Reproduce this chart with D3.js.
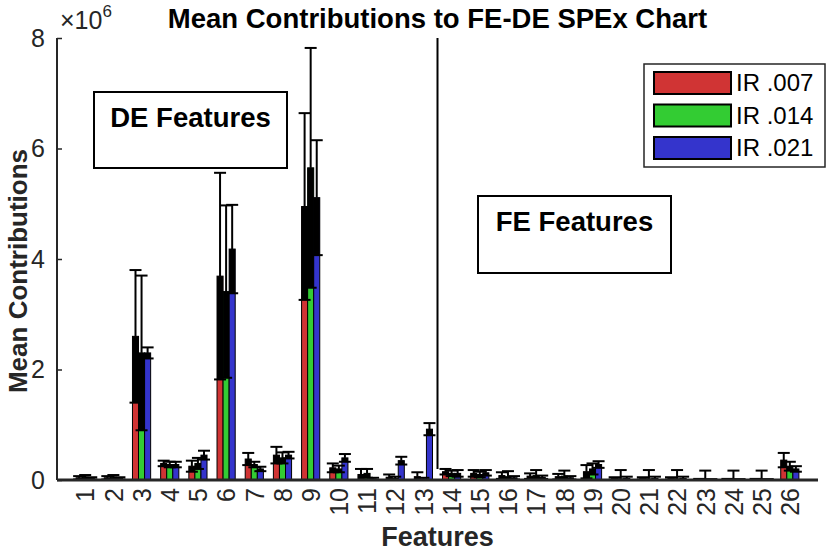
<!DOCTYPE html>
<html>
<head>
<meta charset="utf-8">
<title>Mean Contributions to FE-DE SPEx Chart</title>
<script src="https://cdn.jsdelivr.net/npm/d3@7"></script>
<style>
  body { margin: 0; background: #fff; }
  text { font-family: "Liberation Sans", Arial, Helvetica, sans-serif; }
</style>
</head>
<body>
<script>
// feature indices 1..26
var features = d3.range(1, 27);
var seriesNames = ["IR .007", "IR .014", "IR .021"];
var yTicks = [0, 2, 4, 6, 8];

// mean contributions (x 10^6)
var meanRed   = [0.04, 0.04, 2.6, 0.30, 0.25, 3.69, 0.38, 0.45, 4.95, 0.22, 0.10, 0.05, 0.06, 0.15, 0.12, 0.08, 0.07, 0.06, 0.15, 0.03, 0.03, 0.03, 0.01, 0.01, 0.01, 0.36];
var meanGreen = [0.05, 0.05, 2.3, 0.28, 0.30, 3.41, 0.28, 0.40, 5.65, 0.20, 0.12, 0.03, 0.02, 0.12, 0.10, 0.06, 0.08, 0.07, 0.20, 0.02, 0.02, 0.02, 0.01, 0.01, 0.01, 0.25];
var meanBlue  = [0.03, 0.03, 2.3, 0.28, 0.45, 4.18, 0.20, 0.45, 5.11, 0.40, 0.02, 0.35, 0.92, 0.12, 0.13, 0.04, 0.05, 0.04, 0.28, 0.03, 0.03, 0.03, 0.01, 0.01, 0.01, 0.20];

// error (+/-, x 10^6)
var errRed   = [0.03, 0.03, 1.2, 0.05, 0.10, 1.87, 0.11, 0.15, 1.69, 0.08, 0.10, 0.05, 0.08, 0.05, 0.06, 0.06, 0.05, 0.05, 0.12, 0.02, 0.02, 0.02, 0.01, 0.01, 0.01, 0.13];
var errGreen = [0.04, 0.04, 1.4, 0.05, 0.10, 1.56, 0.05, 0.10, 2.17, 0.06, 0.08, 0.03, 0.02, 0.05, 0.05, 0.10, 0.10, 0.10, 0.10, 0.16, 0.16, 0.16, 0.16, 0.16, 0.16, 0.08];
var errBlue  = [0.02, 0.02, 0.1, 0.05, 0.08, 0.80, 0.04, 0.06, 1.04, 0.07, 0.02, 0.07, 0.11, 0.06, 0.05, 0.03, 0.03, 0.03, 0.06, 0.03, 0.03, 0.03, 0.005, 0.005, 0.005, 0.05];

var colors = ["#d03434", "#33cc33", "#3434cc"];
var means = [meanRed, meanGreen, meanBlue];
var errs = [errRed, errGreen, errBlue];

var W = 830, H = 551;
var mLeft = 57, mRight = 818, mTop = 38, mBottom = 480;

var svg = d3.select("body").append("svg")
    .attr("width", W)
    .attr("height", H);

var x = d3.scaleLinear().domain([0, 27]).range([mLeft, mRight]);
var y = d3.scaleLinear().domain([0, 8]).range([mBottom, mTop]);

var step = x(1) - x(0);
var bw = step * 0.215;
var cap = 6;

svg.append("clipPath").attr("id", "plot")
  .append("rect")
    .attr("x", mLeft).attr("y", 0)
    .attr("width", mRight - mLeft).attr("height", mBottom);

var plot = svg.append("g").attr("clip-path", "url(#plot)");

// bars
means.forEach(function(m, s) {
  plot.selectAll(".bar" + s)
    .data(features)
    .enter().append("rect")
      .attr("x", function(d) { return x(d) + (s - 1) * bw - bw / 2; })
      .attr("y", function(d) { return y(m[d - 1]); })
      .attr("width", bw)
      .attr("height", function(d) { return y(0) - y(m[d - 1]); })
      .attr("fill", colors[s])
      .attr("stroke", "#000")
      .attr("stroke-width", 1);
});

// error bars
means.forEach(function(m, s) {
  var e = errs[s];
  var g = plot.selectAll(".err" + s)
    .data(features)
    .enter().append("g")
      .attr("transform", function(d) { return "translate(" + (x(d) + (s - 1) * bw) + ",0)"; });

  // lower half drawn over the bar
  g.append("rect")
      .attr("x", -bw / 2)
      .attr("y", function(d) { return y(m[d - 1]); })
      .attr("width", bw)
      .attr("height", function(d) { return y(Math.max(0, m[d - 1] - e[d - 1])) - y(m[d - 1]); })
      .attr("fill", "#000");

  g.append("line")
      .attr("x1", 0).attr("x2", 0)
      .attr("y1", function(d) { return y(m[d - 1]); })
      .attr("y2", function(d) { return y(m[d - 1] + e[d - 1]); })
      .attr("stroke", "#000").attr("stroke-width", 2);

  g.append("line")
      .attr("x1", -cap).attr("x2", cap)
      .attr("y1", function(d) { return y(m[d - 1] + e[d - 1]); })
      .attr("y2", function(d) { return y(m[d - 1] + e[d - 1]); })
      .attr("stroke", "#000").attr("stroke-width", 2);

  g.append("line")
      .attr("x1", -cap).attr("x2", cap)
      .attr("y1", function(d) { return y(m[d - 1] - e[d - 1]); })
      .attr("y2", function(d) { return y(m[d - 1] - e[d - 1]); })
      .attr("stroke", "#000").attr("stroke-width", 2);
});

// divider between DE and FE features
plot.append("line")
    .attr("x1", x(13.5)).attr("x2", x(13.5))
    .attr("y1", y(8)).attr("y2", y(0.2))
    .attr("stroke", "#000").attr("stroke-width", 2);

// axes
var yAxis = d3.axisLeft(y).tickValues(yTicks).tickSize(-5).tickPadding(12).tickFormat(d3.format("d"));
var gy = svg.append("g").attr("transform", "translate(" + mLeft + ",0)").call(yAxis);
gy.select(".domain").attr("stroke", "#262626").attr("stroke-width", 2).attr("d", "M0," + mTop + "V" + mBottom);
gy.selectAll(".tick line").attr("stroke", "#262626").attr("stroke-width", 1.5);
gy.selectAll(".tick text").attr("font-size", 25).attr("fill", "#262626")
    .attr("font-family", "Liberation Sans, Arial, sans-serif");

var xAxis = d3.axisBottom(x).tickValues(features).tickSize(0).tickFormat(d3.format("d"));
var gx = svg.append("g").attr("transform", "translate(0," + mBottom + ")").call(xAxis);
gx.select(".domain").attr("stroke", "#262626").attr("stroke-width", 3).attr("d", "M" + mLeft + ",0H" + mRight);
gx.selectAll(".tick text")
    .attr("font-size", 25).attr("fill", "#262626")
    .attr("font-family", "Liberation Sans, Arial, sans-serif")
    .attr("transform", "rotate(-90)")
    .attr("text-anchor", "end")
    .attr("x", -8).attr("y", 0).attr("dy", "0.35em");

// exponent label
var ex = svg.append("text").attr("x", 60).attr("y", 29).attr("fill", "#262626").attr("font-size", 25);
ex.append("tspan").text("\u00d710");
ex.append("tspan").attr("font-size", 17).attr("dy", -12).text("6");

// title and labels
svg.append("text")
    .attr("x", (mLeft + mRight) / 2).attr("y", 28)
    .attr("text-anchor", "middle")
    .attr("font-size", 27.5).attr("font-weight", "bold")
    .text("Mean Contributions to FE-DE SPEx Chart");

svg.append("text")
    .attr("x", (mLeft + mRight) / 2).attr("y", 546)
    .attr("text-anchor", "middle")
    .attr("font-size", 27).attr("font-weight", "bold").attr("fill", "#262626")
    .text("Features");

svg.append("text")
    .attr("transform", "translate(27," + ((mTop + mBottom) / 2 + 12) + ") rotate(-90)")
    .attr("text-anchor", "middle")
    .attr("font-size", 26).attr("font-weight", "bold").attr("fill", "#262626")
    .text("Mean Contributions");

// annotation boxes
function noteBox(x0, y0, w, h, label) {
  svg.append("rect")
      .attr("x", x0).attr("y", y0).attr("width", w).attr("height", h)
      .attr("fill", "#fff").attr("stroke", "#000").attr("stroke-width", 2);
  svg.append("text")
      .attr("x", x0 + w / 2).attr("y", y0 + 35)
      .attr("text-anchor", "middle")
      .attr("font-size", 27.5).attr("font-weight", "bold")
      .text(label);
}
noteBox(94, 92, 193, 76, "DE Features");
noteBox(478, 196, 193, 77, "FE Features");

// legend
var lg = svg.append("g");
lg.append("rect")
    .attr("x", 644).attr("y", 64).attr("width", 181).attr("height", 103)
    .attr("fill", "#fff").attr("stroke", "#262626").attr("stroke-width", 1.5);
seriesNames.forEach(function(name, i) {
  var yy = 72 + i * 32.5;
  lg.append("rect")
      .attr("x", 654).attr("y", yy).attr("width", 77).attr("height", 22)
      .attr("fill", colors[i]).attr("stroke", "#000").attr("stroke-width", 2);
  lg.append("text")
      .attr("x", 736).attr("y", yy + 19)
      .attr("font-size", 24).attr("fill", "#000")
      .text(name);
});
</script>
</body>
</html>
